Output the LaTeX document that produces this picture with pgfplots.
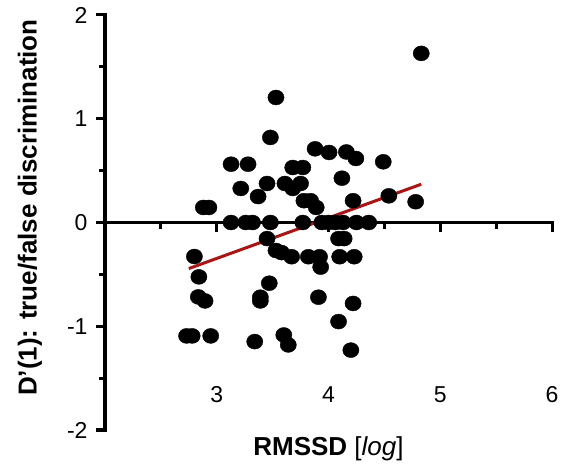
\documentclass[border=0pt]{standalone}
\usepackage{fontspec}
\setmainfont{Liberation Sans}
\usepackage{pgfplots}
\pgfplotsset{compat=1.18}
\definecolor{fitred}{RGB}{170,20,20}

\begin{document}
\begin{tikzpicture}
    \begin{axis}[
        scale only axis, width=447bp, height=415bp,
        at={(0,0)}, anchor=south west,
        xmin=2, xmax=6, ymin=-2, ymax=2,
        axis x line*=middle, axis y line*=left,
        axis line style={-, line width=3.2bp, line cap=rect},
        every tick/.style={black, line width=3bp},
        tick align=outside,
        major tick length=9bp, minor tick length=6bp,
        xtick={3,4,5,6}, minor xtick={2.5,3.5,4.5,5.5},
        xticklabels={},
        ytick={-2,-1,0,1,2}, minor ytick={-1.5,-0.5,0.5,1.5},
        yticklabels={-2,-1,0,1,2},
        yticklabel style={font=\fontsize{23bp}{27bp}\selectfont, anchor=east, xshift=-5bp},
        clip=false,
    ]
        \addplot[only marks, mark=*, mark size=7.5bp, mark options={xscale=1.08}, black] coordinates {
            (4.83,1.63) (3.53,1.205) (3.48,0.82) (3.88,0.71) (4.005,0.675)
            (4.16,0.68) (4.245,0.617) (4.49,0.585) (3.128,0.562) (3.28,0.562)
            (3.68,0.53) (3.77,0.53) (4.12,0.427) (3.215,0.328) (3.45,0.376)
            (3.61,0.376) (3.68,0.328) (3.75,0.376) (3.37,0.25) (2.88,0.145)
            (2.93,0.145) (3.78,0.21) (3.84,0.21) (3.89,0.145) (4.22,0.21)
            (4.54,0.257) (4.78,0.2)
            (3.128,0) (3.26,0) (3.32,0) (3.48,0) (3.77,0) (3.94,0) (4.0,0)
            (4.06,0) (4.13,0) (4.25,0) (4.36,0)
            (3.45,-0.155) (4.09,-0.155) (4.14,-0.155) (2.80,-0.328) (3.53,-0.27)
            (3.58,-0.29) (3.67,-0.33) (3.82,-0.33) (3.92,-0.33) (3.93,-0.43)
            (4.10,-0.33) (4.23,-0.33) (2.84,-0.524) (3.47,-0.585) (2.835,-0.717)
            (2.895,-0.756) (3.39,-0.72) (3.39,-0.756) (3.91,-0.72) (4.22,-0.78)
            (4.09,-0.955) (2.73,-1.093) (2.78,-1.093) (2.946,-1.093) (3.34,-1.148)
            (3.60,-1.084) (3.64,-1.18) (4.20,-1.23)
        };
        \addplot[fitred, line width=3bp] coordinates {(2.75,-0.444) (4.83,0.369)};
        % x tick labels sit near the bottom, as in the original
        \node[font=\fontsize{23bp}{27bp}\selectfont] at (axis cs:3,-1.656) {3};
        \node[font=\fontsize{23bp}{27bp}\selectfont] at (axis cs:4,-1.656) {4};
        \node[font=\fontsize{23bp}{27bp}\selectfont] at (axis cs:5,-1.656) {5};
        \node[font=\fontsize{23bp}{27bp}\selectfont] at (axis cs:6,-1.656) {6};
        \node[font=\fontsize{26bp}{30bp}\selectfont] at (axis cs:4,-2.18)
            {\textbf{RMSSD} [\textit{log}]};
        \node[font=\fontsize{26bp}{30bp}\selectfont\bfseries, rotate=90]
            at (axis description cs:-0.168,0.536) {D'(1): true/false discrimination};
    \end{axis}
    \pgfresetboundingbox
    \path (-105bp,-37bp) rectangle (458bp,430bp);
\end{tikzpicture}
\end{document}
